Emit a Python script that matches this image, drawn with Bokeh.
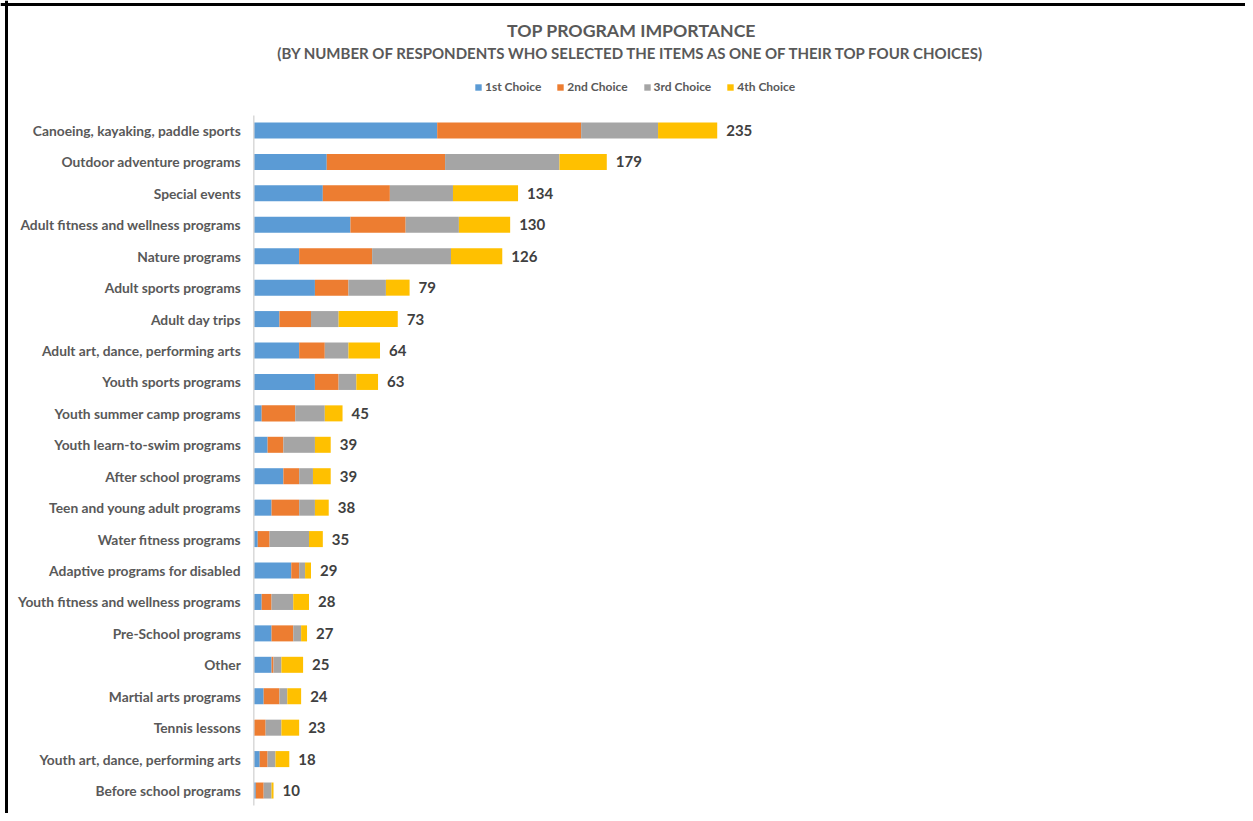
from bokeh.plotting import figure
from bokeh.models import ColumnDataSource, Range1d, Legend, LegendItem, Span
from bokeh.core.properties import value
from bokeh.embed import file_html
from bokeh.resources import INLINE

categories = [
    "Canoeing, kayaking, paddle sports",
    "Outdoor adventure programs",
    "Special events",
    "Adult fitness and wellness programs",
    "Nature programs",
    "Adult sports programs",
    "Adult day trips",
    "Adult art, dance, performing arts",
    "Youth sports programs",
    "Youth summer camp programs",
    "Youth learn-to-swim programs",
    "After school programs",
    "Teen and young adult programs",
    "Water fitness programs",
    "Adaptive programs for disabled",
    "Youth fitness and wellness programs",
    "Pre-School programs",
    "Other",
    "Martial arts programs",
    "Tennis lessons",
    "Youth art, dance, performing arts",
    "Before school programs",
]
first_choice = [93, 37, 35, 49, 23, 31, 13, 23, 31, 4, 7, 15, 9, 2, 19, 4, 9, 9, 5, 0, 3, 1]
second_choice = [73, 60, 34, 28, 37, 17, 16, 13, 12, 17, 8, 8, 14, 6, 4, 5, 11, 1, 8, 6, 4, 4]
third_choice = [39, 58, 32, 27, 40, 19, 14, 12, 9, 15, 16, 7, 8, 20, 3, 11, 4, 4, 4, 8, 4, 4]
fourth_choice = [30, 24, 33, 26, 26, 12, 30, 16, 11, 9, 8, 9, 7, 7, 3, 8, 3, 11, 7, 9, 7, 1]
series_names = ["1st Choice", "2nd Choice", "3rd Choice", "4th Choice"]
colors = ["#5B9BD5", "#ED7D31", "#A5A5A5", "#FFC000"]

title_text = "TOP PROGRAM IMPORTANCE"
subtitle_text = "(BY NUMBER OF RESPONDENTS WHO SELECTED THE ITEMS AS ONE OF THEIR TOP FOUR CHOICES)"

n = len(categories)
idx = list(range(n))
totals = [a + b + c + d for a, b, c, d in zip(first_choice, second_choice, third_choice, fourth_choice)]

source = ColumnDataSource(dict(
    y=idx, cat=categories,
    c1=first_choice, c2=second_choice, c3=third_choice, c4=fourth_choice,
    total=totals, label=[str(t) for t in totals],
))

# layout constants (pixels)
W, H = 1245, 813
AXIS_X = 253.3        # pixel of value 0
PX_PER_UNIT = 1.972   # pixels per respondent
ROW = 31.43           # pixels between rows
ROW0 = 130            # pixel of first row centre from top


def px_x(px):
    return (px - AXIS_X) / PX_PER_UNIT


def px_y(py):
    return (py - ROW0) / ROW


p = figure(
    width=W, height=H, output_backend="svg", toolbar_location=None,
    x_range=Range1d(px_x(0), px_x(W)),
    y_range=Range1d(px_y(H), px_y(0)),
    min_border_left=0, min_border_right=0, min_border_top=0, min_border_bottom=0,
)
p.outline_line_color = None
p.xgrid.visible = False
p.ygrid.visible = False
p.xaxis.visible = False
p.yaxis.visible = False

# chart-area frame (top and left edges)
p.add_layout(Span(location=px_x(6), dimension="height", line_color="#000000", line_width=3))
p.add_layout(Span(location=px_y(4), dimension="width", line_color="#000000", line_width=3))

renderers = p.hbar_stack(["c1", "c2", "c3", "c4"], y="y", height=0.51,
                         color=colors, line_color=None, source=source)

# category axis line
p.segment(x0=[0], x1=[0], y0=[-0.48], y1=[n - 0.52], line_color="#d9d9d9", line_width=1.5)

# category labels
p.text(x=0, y="y", text="cat", source=source, x_offset=-13,
       text_baseline="middle", text_align="right",
       text_font=value("Lato"), text_font_style="bold", text_font_size="13.8px",
       text_color="#595959")

# totals
p.text(x="total", y="y", text="label", source=source, x_offset=9,
       text_baseline="middle", text_align="left",
       text_font=value("Lato"), text_font_style="bold", text_font_size="15px",
       text_color="#404040")

title_x = px_x(631)
p.text(x=[title_x], y=[px_y(30)], text=[title_text], text_align="center",
       text_baseline="middle", text_font=value("Lato"), text_font_style="bold",
       text_font_size="17.7px", text_color="#595959")
p.text(x=[title_x], y=[px_y(52)], text=[subtitle_text], text_align="center",
       text_baseline="middle", text_font=value("Lato"), text_font_style="bold",
       text_font_size="15px", text_color="#595959")

legend = Legend(
    items=[LegendItem(label=nm, renderers=[r]) for nm, r in zip(series_names, renderers)],
    orientation="horizontal", location=(474, H - 88 - 6),
    glyph_width=8, glyph_height=8, label_height=12, label_standoff=3, spacing=15,
    padding=0, margin=0, border_line_color=None, background_fill_alpha=0,
    label_text_font="Lato", label_text_font_style="bold", label_text_font_size="12px",
    label_text_color="#595959",
)
p.add_layout(legend, "center")

open("out.html", "w").write(file_html(p, INLINE))
